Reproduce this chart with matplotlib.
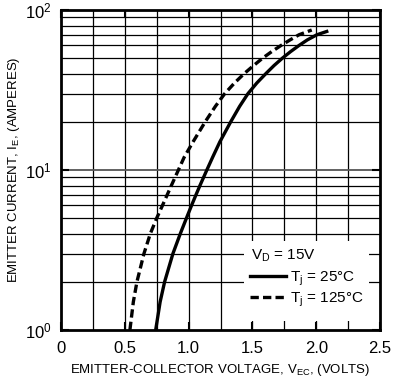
import matplotlib
matplotlib.use("Agg")
import matplotlib.pyplot as plt
from matplotlib.lines import Line2D
from matplotlib.patches import Rectangle
from matplotlib.ticker import FixedLocator, LogLocator, NullFormatter

plt.rcParams['font.family'] = ['Liberation Sans', 'DejaVu Sans']
plt.rcParams['mathtext.fontset'] = 'custom'
plt.rcParams['mathtext.rm'] = 'Liberation Sans'
plt.rcParams['mathtext.it'] = 'Liberation Sans'
plt.rcParams['mathtext.bf'] = 'Liberation Sans'
plt.rcParams['mathtext.sf'] = 'Liberation Sans'
plt.rcParams['lines.scale_dashes'] = False

# Data
i_25 = [1, 1.5, 2, 3, 4, 5, 6, 7, 8, 10, 12, 15, 20, 25, 30, 35, 40, 45, 50, 55, 60, 65, 70, 74]
v_25 = [0.742, 0.777, 0.812, 0.877, 0.935, 0.983, 1.023, 1.058, 1.089, 1.143, 1.188, 1.245,
        1.33, 1.40, 1.465, 1.535, 1.605, 1.67, 1.735, 1.80, 1.865, 1.93, 2.005, 2.095]
i_125 = [1, 1.5, 2, 3, 4, 5, 6, 8, 10, 12, 15, 20, 25, 30, 35, 40, 45, 50, 55, 60, 65, 70, 75]
v_125 = [0.54, 0.567, 0.595, 0.65, 0.70, 0.75, 0.795, 0.865, 0.92, 0.965, 1.035, 1.13, 1.21,
         1.283, 1.36, 1.435, 1.51, 1.58, 1.652, 1.724, 1.795, 1.865, 1.965]
x_ticks = [0, 0.5, 1.0, 1.5, 2.0, 2.5]
x_tick_labels = ['0', '0.5', '1.0', '1.5', '2.0', '2.5']
x_grid = [0.25, 0.5, 0.75, 1.0, 1.25, 1.5, 1.75, 2.0, 2.25]
label_25 = r'T$_\mathregular{j}$ = 25°C'
label_125 = r'T$_\mathregular{j}$ = 125°C'
legend_title = r'V$_\mathregular{D}$ = 15V'

fig = plt.figure(figsize=(3.95, 3.86), dpi=100)
ax = fig.add_axes([61/395, 56/386, 319/395, 320/386])
ax.set_xlim(0, 2.5)
ax.set_yscale('log')
ax.set_ylim(1, 100)

# grid
for xg in x_grid:
    ax.axvline(xg, color='black', lw=0.9, zorder=1)
for dec in [1, 10]:
    for m in range(2, 10):
        ax.axhline(dec * m, color='black', lw=0.9, zorder=1)
ax.axhline(10, color='#555555', lw=1.3, zorder=1)

# legend background box
ax.add_patch(Rectangle((0.575, 0.028), 0.391, 0.25, transform=ax.transAxes,
                       facecolor='white', edgecolor='none', zorder=2))

ax.plot(v_25, i_25, color='black', lw=2.4, zorder=3, solid_capstyle='butt')
ax.plot(v_125, i_125, color='black', lw=2.4, zorder=3, dashes=(6.0, 3.0))

ax.set_xticks(x_ticks)
ax.set_xticklabels(x_tick_labels, fontsize=12)
ax.yaxis.set_major_locator(FixedLocator([1, 10, 100]))
ax.yaxis.set_minor_locator(LogLocator(base=10, subs=range(2, 10)))
ax.yaxis.set_minor_formatter(NullFormatter())
ax.tick_params(axis='both', which='major', direction='in', length=6, width=1.5,
               top=True, right=True, labelsize=12)
ax.tick_params(axis='x', which='major', pad=8)
ax.tick_params(axis='y', which='major', pad=7)
ax.tick_params(axis='y', which='minor', length=0)
for s in ax.spines.values():
    s.set_linewidth(2.0)
    s.set_zorder(5)

ax.set_xlabel(r'EMITTER-COLLECTOR VOLTAGE, V$_\mathregular{EC}$, (VOLTS)', fontsize=9.5, labelpad=4)
ax.set_ylabel(r'EMITTER CURRENT, I$_\mathregular{E}$, (AMPERES)', fontsize=9.5, labelpad=2)

ax.text(0.597, 0.232, legend_title, transform=ax.transAxes, fontsize=11,
        va='center', ha='left', zorder=6)
handles = [Line2D([], [], color='black', lw=2.4),
           Line2D([], [], color='black', lw=2.4, dashes=(6.0, 3.0))]
leg = ax.legend(handles, [label_25, label_125],
                loc='upper left', bbox_to_anchor=(0.594, 0.19), frameon=False,
                fontsize=11, handlelength=2.3, handletextpad=0.3,
                labelspacing=0.2, borderpad=0.0, borderaxespad=0.0)
leg.set_zorder(6)

fig.savefig('out.png', dpi=100)
